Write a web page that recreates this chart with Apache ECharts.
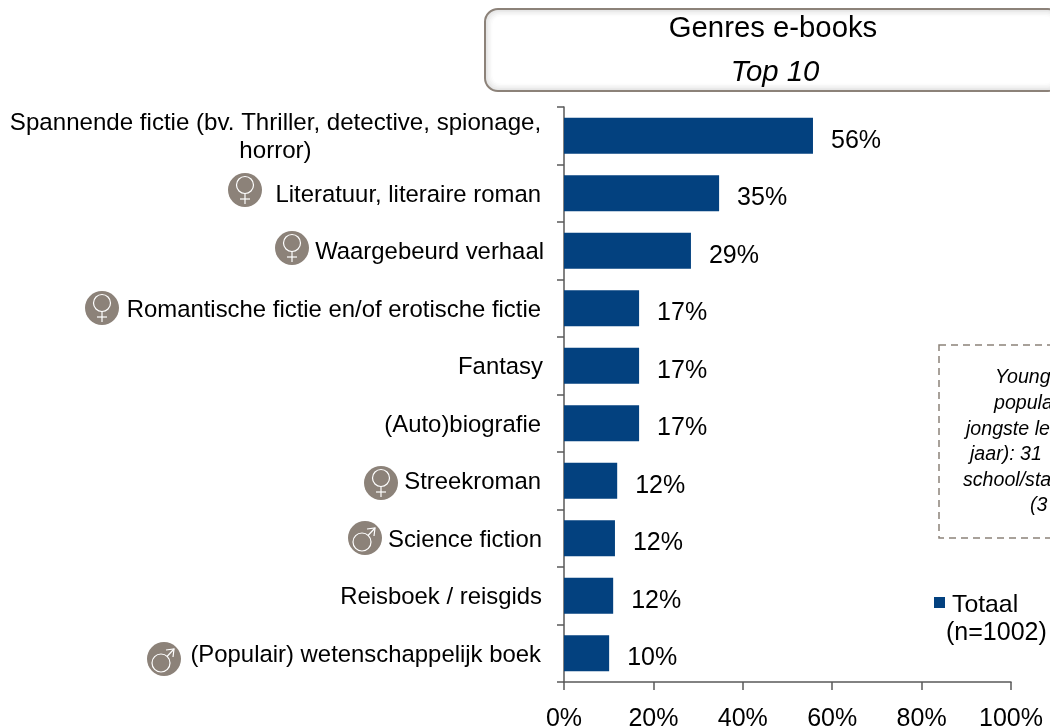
<!DOCTYPE html>
<html>
<head>
<meta charset="utf-8">
<title>Genres e-books</title>
<style>
  html, body { margin: 0; padding: 0; background: #fff; overflow: hidden; }
  #chart { width: 1050px; height: 726px; }
</style>
<script src="https://cdn.jsdelivr.net/npm/echarts@6/dist/echarts.min.js"></script>
</head>
<body>
<div id="chart"></div>
<script>
  const categories = [
    'Spannende fictie (bv. Thriller, detective, spionage,\nhorror)',
    'Literatuur, literaire roman',
    'Waargebeurd verhaal',
    'Romantische fictie en/of erotische fictie',
    'Fantasy',
    '(Auto)biografie',
    'Streekroman',
    'Science fiction',
    'Reisboek / reisgids',
    '(Populair) wetenschappelijk boek'
  ]
  // bar lengths, labels as printed on it
  const totaal = [55.7, 34.7, 28.4, 16.8, 16.8, 16.8, 11.9, 11.4, 11, 10.1]
  const totaalLabels = ['56%', '35%', '29%', '17%', '17%', '17%', '12%', '12%', '12%', '10%']
  const xTicks = [0, 20, 40, 60, 80, 100]
  const noteLines = ['Young', 'popula', 'jongste le', 'jaar): 31', 'school/sta', '(3']

  const FONT = '"Liberation Sans", Arial, sans-serif'
  const GREY = '#8c8279'
  const AXIS = '#595959'

  // small nudges so the labels sit where the reference has them
  const labelNudge = [0, 0, 3, 0, 2, 0, 0, 1, 1, 0]

  const venus = (cx, cy) => ({
    type: 'group',
    silent: true,
    children: [
      { type: 'circle', shape: { cx, cy, r: 17 }, style: { fill: GREY } },
      { type: 'circle', shape: { cx, cy: cy - 5, r: 8.5 }, style: { fill: 'none', stroke: '#fff', lineWidth: 1.2 } },
      { type: 'line', shape: { x1: cx, y1: cy + 3.5, x2: cx, y2: cy + 14 }, style: { stroke: '#fff', lineWidth: 1.2 } },
      { type: 'line', shape: { x1: cx - 5, y1: cy + 9, x2: cx + 5, y2: cy + 9 }, style: { stroke: '#fff', lineWidth: 1.2 } }
    ]
  })

  const mars = (cx, cy) => ({
    type: 'group',
    silent: true,
    children: [
      { type: 'circle', shape: { cx, cy, r: 17 }, style: { fill: GREY } },
      { type: 'circle', shape: { cx: cx - 3, cy: cy + 4, r: 9 }, style: { fill: 'none', stroke: '#fff', lineWidth: 1.2 } },
      { type: 'line', shape: { x1: cx + 3, y1: cy - 2.5, x2: cx + 10, y2: cy - 10 }, style: { stroke: '#fff', lineWidth: 1.2 } },
      { type: 'polyline', shape: { points: [[cx + 2, cy - 9], [cx + 10, cy - 10], [cx + 9, cy - 2]] }, style: { fill: 'none', stroke: '#fff', lineWidth: 1.2 } }
    ]
  })

  // soft inner edge of the title box
  const titleShades = ['#e2e2e2', '#eaeaea', '#f1f1f1', '#f7f7f7', '#fcfcfc', '#ffffff']
  const titleBox = titleShades.map((fill, i) => ({
    type: 'rect',
    silent: true,
    shape: { x: 485 + i * 1.5, y: 9 + i * 1.5, width: 576 - i * 3, height: 82 - i * 3, r: Math.max(13 - i, 6) },
    style: i === 0 ? { fill, stroke: GREY, lineWidth: 2 } : { fill }
  }))

  const noteX = [995, 994, 966, 970, 963, 1030]
  const axisFont = { fontSize: 23.9, fontFamily: FONT, color: '#000' }

  const chart = echarts.init(document.getElementById('chart'), null, { renderer: 'canvas' })

  chart.setOption({
    animation: false,
    textStyle: { fontFamily: FONT },
    grid: { left: 564, right: 39, top: 107, height: 575, containLabel: false, outerBoundsMode: 'none' },
    legend: {
      left: 929,
      top: 588,
      itemWidth: 11,
      itemHeight: 11,
      itemGap: 0,
      selectedMode: false,
      icon: 'rect',
      formatter: '{t|{name}}',
      textStyle: {
        fontFamily: FONT,
        fontSize: 24.8,
        color: '#000',
        padding: [0, 0, 0, 2],
        rich: { t: { padding: [6, 0, 0, 0], fontFamily: FONT, fontSize: 24.8, color: '#000' } }
      }
    },
    xAxis: {
      type: 'value',
      min: 0,
      max: 100,
      interval: 20,
      splitLine: { show: false },
      axisLine: { show: true, lineStyle: { color: AXIS, width: 1.5 } },
      axisTick: { show: true, length: 8, lineStyle: { color: AXIS, width: 1.5 } },
      axisLabel: {
        margin: 25,
        fontFamily: FONT,
        fontSize: 25,
        color: '#000',
        customValues: xTicks,
        formatter: v => v + '%'
      }
    },
    yAxis: {
      type: 'category',
      inverse: true,
      data: categories,
      axisLine: { show: true, lineStyle: { color: AXIS, width: 1.5 } },
      axisTick: { show: true, length: 7, lineStyle: { color: AXIS, width: 1.5 } },
      axisLabel: {
        margin: 20,
        interval: 0,
        fontFamily: FONT,
        fontSize: 23.9,
        color: '#000',
        formatter: (value, i) => {
          if (value.includes('\n')) {
            return value.split('\n').map(l => '{wide|' + l + '}').join('\n')
          }
          return '{n' + labelNudge[i] + '|' + value + '}'
        },
        rich: {
          wide: { width: 531, align: 'center', padding: [4, 3, 0, 0], lineHeight: 28, ...axisFont, fontSize: 24.1 },
          n0: { padding: [4, 3, 0, 0], ...axisFont },
          n1: { padding: [4, 2, 0, 0], ...axisFont },
          n2: { padding: [4, 1, 0, 0], ...axisFont },
          n3: { padding: [4, 0, 0, 0], ...axisFont }
        }
      }
    },
    series: [
      {
        name: 'Totaal',
        type: 'bar',
        data: totaal,
        barCategoryGap: '37%',
        itemStyle: { color: '#03417f' },
        label: {
          show: true,
          position: 'right',
          distance: 18,
          offset: [0, 5],
          fontFamily: FONT,
          fontSize: 25,
          color: '#000',
          formatter: p => totaalLabels[p.dataIndex]
        }
      }
    ],
    graphic: [
      ...titleBox,
      { type: 'text', silent: true, style: { x: 773, y: 29, text: 'Genres e-books', align: 'center', verticalAlign: 'middle', fontFamily: FONT, fontSize: 29.3, fill: '#000' } },
      { type: 'text', silent: true, style: { x: 775, y: 73, text: 'Top 10', align: 'center', verticalAlign: 'middle', fontFamily: FONT, fontStyle: 'italic', fontSize: 29.3, fill: '#000' } },
      venus(245, 190),
      venus(292, 248),
      venus(102, 308),
      venus(381, 483),
      mars(365, 538),
      mars(164, 659),
      {
        type: 'rect',
        silent: true,
        shape: { x: 939, y: 345, width: 140, height: 193 },
        style: { fill: 'none', stroke: GREY, lineWidth: 1.5, lineDash: [7, 5] }
      },
      ...noteLines.map((line, i) => ({
        type: 'text',
        silent: true,
        style: { x: noteX[i], y: 378 + i * 25.6, text: line, align: 'left', verticalAlign: 'middle', fontFamily: FONT, fontStyle: 'italic', fontSize: 19.6, fill: '#000' }
      })),
      { type: 'text', silent: true, style: { x: 946, y: 633, text: '(n=1002)', align: 'left', verticalAlign: 'middle', fontFamily: FONT, fontSize: 25, fill: '#000' } }
    ]
  })

  window.addEventListener('resize', () => chart.resize())
</script>
</body>
</html>
